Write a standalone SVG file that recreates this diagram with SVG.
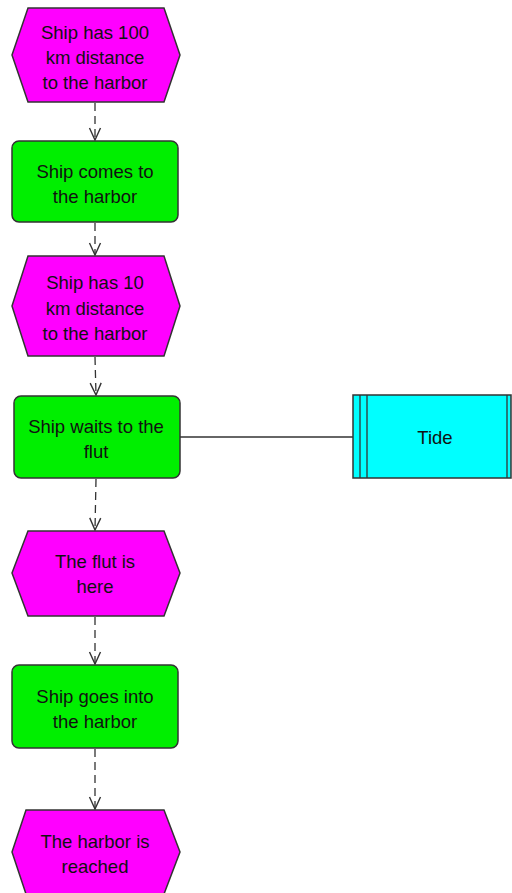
<svg xmlns="http://www.w3.org/2000/svg" width="512" height="893" viewBox="0 0 512 893">
<style>
.ev{fill:#ff00ff;stroke:#333;stroke-width:1.5}
.fn{fill:#00ef00;stroke:#333;stroke-width:1.5}
.cl{fill:#00ffff;stroke:#333;stroke-width:1.5}
.t{font-family:"Liberation Sans",Arial,sans-serif;font-size:18.5px;fill:#111;text-anchor:middle}
.c{fill:none;stroke:#333;stroke-width:1.3}
.d{stroke-dasharray:8 5}
</style>
<defs>
<marker id="ah" viewBox="0 0 14 14" refX="13" refY="7" markerWidth="14" markerHeight="14" markerUnits="userSpaceOnUse" orient="auto">
<path d="M1,1.5 L13,7 L1,12.5" fill="none" stroke="#333" stroke-width="1.4"/>
</marker>
</defs>
<g id="connectors">
<line class="c d" x1="95" y1="103" x2="95" y2="140" marker-end="url(#ah)"/>
<line class="c d" x1="95" y1="223" x2="95" y2="255" marker-end="url(#ah)"/>
<line class="c d" x1="95" y1="357" x2="96" y2="395" marker-end="url(#ah)"/>
<line class="c d" x1="96" y1="479" x2="95" y2="530" marker-end="url(#ah)"/>
<line class="c d" x1="95" y1="617" x2="95" y2="664" marker-end="url(#ah)"/>
<line class="c d" x1="95" y1="749" x2="95" y2="809" marker-end="url(#ah)"/>
<line class="c" x1="180" y1="437" x2="353" y2="437"/>
</g>
<g id="n1">
<polygon class="ev" points="28,8 164,8 180,55 164,102 28,102 12,55"/>
<text class="t" x="95" y="39">Ship has 100</text>
<text class="t" x="95" y="64">km distance</text>
<text class="t" x="95" y="89">to the harbor</text>
</g>
<g id="n2">
<rect class="fn" x="12" y="141" width="166" height="81" rx="7"/>
<text class="t" x="95" y="178">Ship comes to</text>
<text class="t" x="95" y="203">the harbor</text>
</g>
<g id="n3">
<polygon class="ev" points="28,256 164,256 180,306 164,356 28,356 12,306"/>
<text class="t" x="95" y="289">Ship has 10</text>
<text class="t" x="95" y="315">km distance</text>
<text class="t" x="95" y="340">to the harbor</text>
</g>
<g id="n4">
<rect class="fn" x="14" y="396" width="166" height="82" rx="7"/>
<text class="t" x="96" y="433">Ship waits to the</text>
<text class="t" x="96" y="458">flut</text>
</g>
<g id="tide">
<rect class="cl" x="353" y="395" width="158" height="83"/>
<line class="c" x1="360" y1="395" x2="360" y2="478"/>
<line class="c" x1="367" y1="395" x2="367" y2="478"/>
<line class="c" x1="507" y1="395" x2="507" y2="478"/>
<text class="t" x="435" y="444">Tide</text>
</g>
<g id="n5">
<polygon class="ev" points="28,531 164,531 180,573 164,616 28,616 12,573"/>
<text class="t" x="95" y="568">The flut is</text>
<text class="t" x="95" y="593">here</text>
</g>
<g id="n6">
<rect class="fn" x="12" y="665" width="166" height="83" rx="7"/>
<text class="t" x="95" y="703">Ship goes into</text>
<text class="t" x="95" y="728">the harbor</text>
</g>
<g id="n7">
<polygon class="ev" points="26,810 164,810 180,852 164,894 26,894 12,852"/>
<text class="t" x="95" y="848">The harbor is</text>
<text class="t" x="95" y="873">reached</text>
</g>
</svg>
